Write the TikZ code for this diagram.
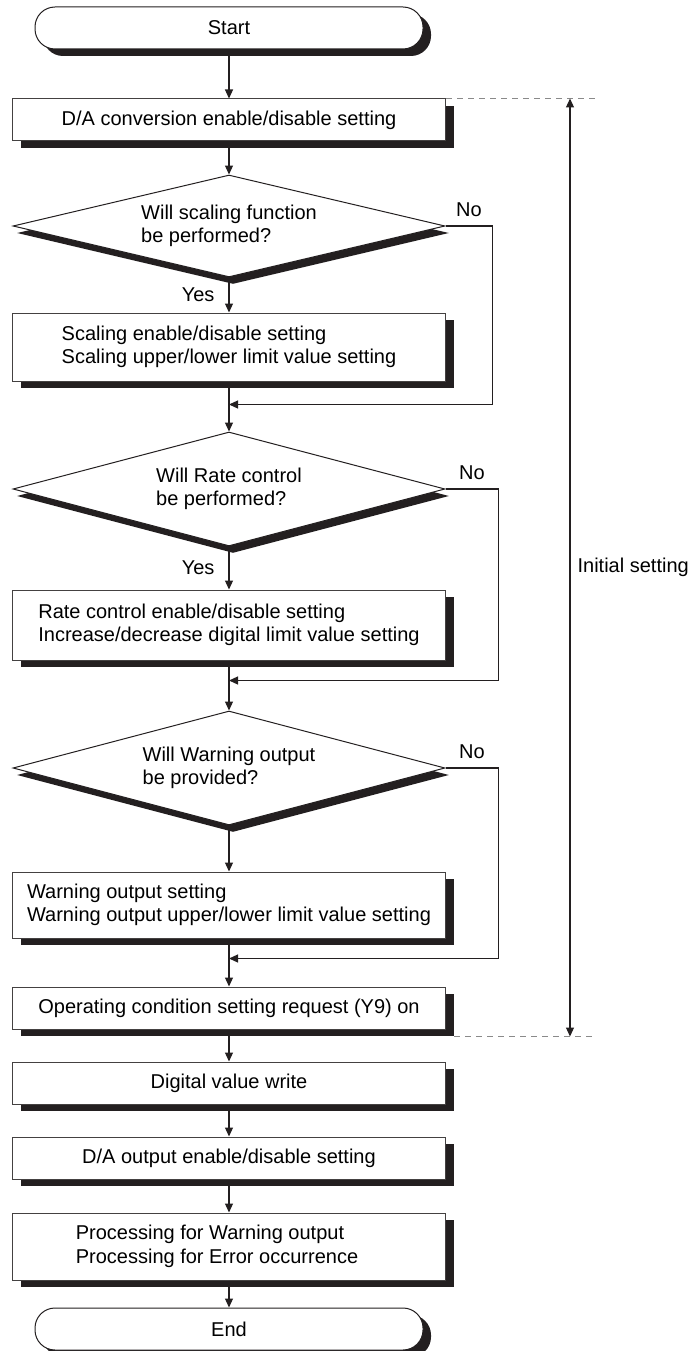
\documentclass[tikz,border=0pt]{standalone}
\usepackage{fontspec}
\setmainfont{Liberation Sans}
\usepackage{tikz}
\usetikzlibrary{positioning, shapes.geometric, arrows.meta, shadows}

\definecolor{inkblack}{HTML}{231F20}
\definecolor{dashgray}{HTML}{8A8A8A}

\begin{document}
\begin{tikzpicture}[
			x=1pt, y=1pt,
			font=\fontsize{20}{23.5}\selectfont,
			boxshadow/.style={drop shadow={shadow xshift=8pt, shadow yshift=-7pt, fill=inkblack, opacity=1}},
			terminal/.style={rectangle, rounded corners=20pt, draw=inkblack, line width=1pt, fill=white, minimum width=388pt, minimum height=42pt, boxshadow},
			process/.style={rectangle, draw=inkblack!85, line width=1pt, fill=white, minimum width=433pt, minimum height=42pt, align=left, boxshadow},
			decision/.style={diamond, aspect=4, draw=inkblack, line width=1pt, fill=white, minimum width=432pt, minimum height=114pt, inner sep=0pt, align=left, drop shadow={shadow xshift=4pt, shadow yshift=-7pt, fill=inkblack, opacity=1}},
			flow/.style={-{Triangle[length=9pt, width=8pt]}, line width=1.2pt, draw=inkblack},
			yes/.style={left, inner sep=5pt, xshift=-9pt},
			no/.style={above, inner sep=5pt, yshift=4pt},
			guide/.style={draw=dashgray, line width=1.2pt, dash pattern=on 6pt off 5pt},
			dimarrow/.style={{Triangle[length=9pt, width=8pt]}-{Triangle[length=9pt, width=8pt]}, line width=1.2pt, draw=inkblack}
			]
			\useasboundingbox (0,0) rectangle (691,-1351);
			
			\node[terminal] (start) at (229,-28) {Start};
			\node[process, below=49pt of start] (convset) {D/A conversion enable/disable setting};
			\node[decision, minimum height=102pt, below=33pt of convset] (scaleq) {Will scaling function\\be performed?};
			\node[process, minimum height=68pt, below=35pt of scaleq] (scaleset) {Scaling enable/disable setting\\Scaling upper/lower limit value setting};
			\node[decision, below=50pt of scaleset] (rateq) {Will Rate control\\be performed?};
			\node[process, minimum height=70pt, below=43pt of rateq] (rateset) {Rate control enable/disable setting\\Increase/decrease digital limit value setting};
			\node[decision, below=50pt of rateset] (warnq) {Will Warning output\\be provided?};
			\node[process, minimum height=66pt, below=46pt of warnq] (warnset) {Warning output setting\\Warning output upper/lower limit value setting};
			\node[process, below=48pt of warnset] (opreq) {Operating condition setting request (Y9) on};
			\node[process, below=32pt of opreq] (dwrite) {Digital value write};
			\node[process, below=32pt of dwrite] (outset) {D/A output enable/disable setting};
			\node[process, minimum height=67pt, below=33pt of outset] (errproc) {Processing for Warning output\\Processing for Error occurrence\hspace*{24pt}};
			\node[terminal, below=27pt of errproc] (end) {End};
			
			% where the No branches come back
			\coordinate (join1) at ([yshift=-23pt]scaleset.south);
			\coordinate (join2) at ([yshift=-20pt]rateset.south);
			\coordinate (join3) at ([yshift=-20pt]warnset.south);
			
			\draw[flow] (start) -- (convset);
			\draw[flow] (convset) -- (scaleq);
			\draw[flow] (scaleq) -- node[yes] {Yes} (scaleset);
			\draw[flow] (scaleset) -- (rateq);
			\draw[flow] (scaleq.east) -- node[no] {No} ++(47,0) |- (join1);
			\draw[flow] (rateq) -- node[yes] {Yes} (rateset);
			\draw[flow] (rateset) -- (warnq);
			\draw[flow] (rateq.east) -- node[no] {No} ++(53,0) |- (join2);
			\draw[flow] (warnq) -- (warnset);
			\draw[flow] (warnset) -- (opreq);
			\draw[flow] (warnq.east) -- node[no] {No} ++(53,0) |- (join3);
			\draw[flow] (opreq) -- (dwrite);
			\draw[flow] (dwrite) -- (outset);
			\draw[flow] (outset) -- (errproc);
			\draw[flow] (errproc) -- (end);
			
			% initial setting range
			\coordinate (opshadow) at ([yshift=-7pt]opreq.south east);
			\coordinate (spantop) at (570,0 |- convset.north);
			\coordinate (spanbot) at (570,0 |- opshadow);
			\draw[guide] (convset.north east) -- ++(152,0);
			\draw[guide] ([xshift=8pt]opshadow) -- ++(139,0);
			\draw[dimarrow] (spantop) -- node[right, inner sep=7pt] {Initial setting} (spanbot);
		\end{tikzpicture}
\end{document}
